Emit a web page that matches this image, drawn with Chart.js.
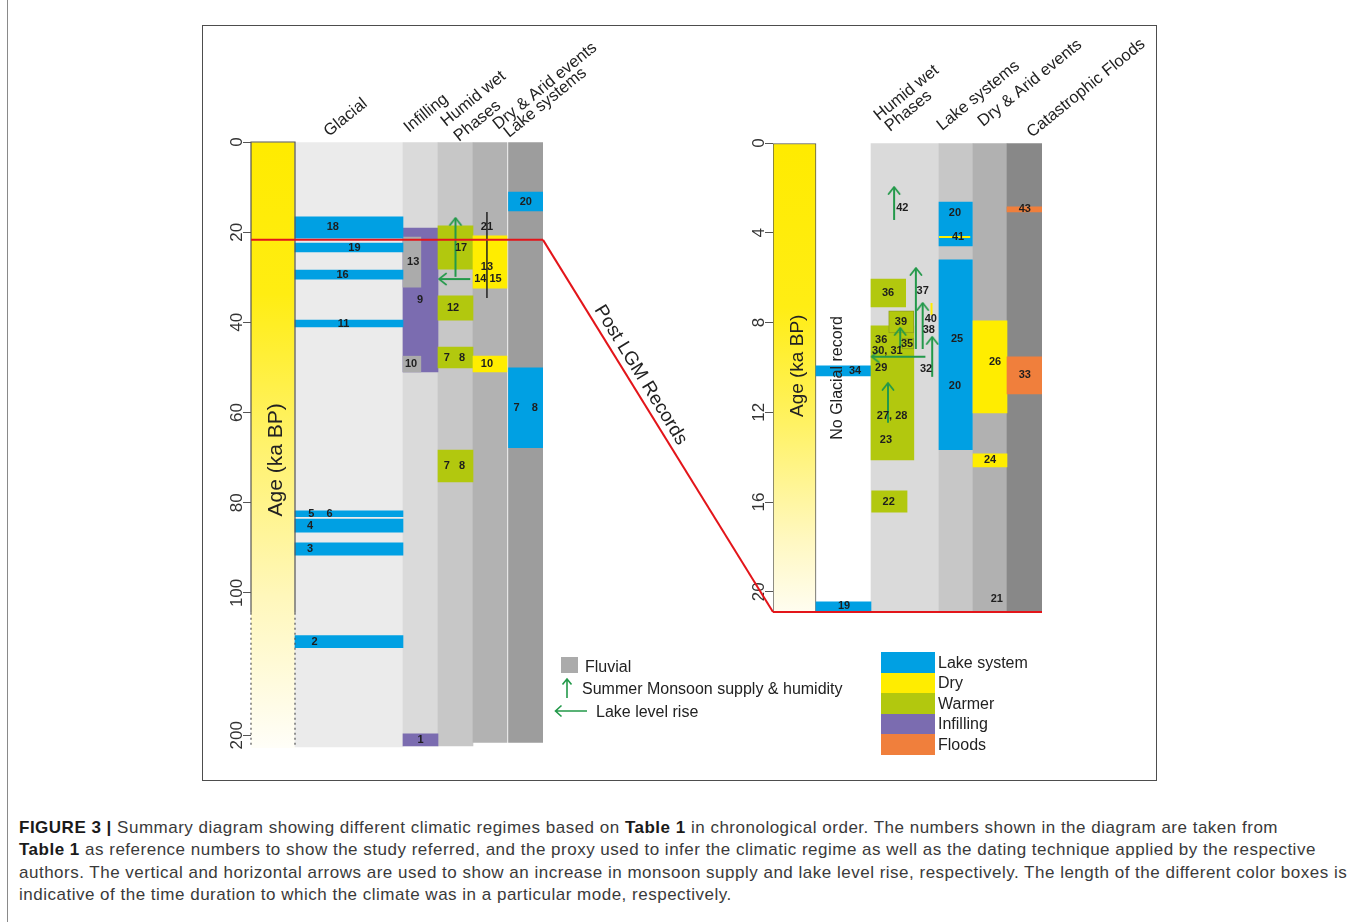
<!DOCTYPE html>
<html>
<head>
<meta charset="utf-8">
<title>Figure 3</title>
<script src="https://cdn.jsdelivr.net/npm/chart.js@4.4.1/dist/chart.umd.min.js"></script>
<style>
  html, body { margin:0; padding:0; background:#fff; }
  body { width:1357px; height:922px; position:relative; overflow:hidden; font-family:"Liberation Sans", Arial, Helvetica, sans-serif; color:#222; }
  #edge { position:absolute; left:7px; top:0; width:1px; height:922px; background:#8a8a8a; }
  #frame { position:absolute; left:202px; top:25px; width:955px; height:756px; border:1px solid #4d4d4d; box-sizing:border-box; }
  canvas { position:absolute; left:0; top:0; }
  .lg { position:absolute; font-size:16px; line-height:20px; color:#222; white-space:nowrap; }
  .sw { position:absolute; }
  #caption { position:absolute; left:19px; top:817px; font-size:17px; letter-spacing:0.5px; line-height:22.3px; color:#3a3a3a; white-space:nowrap; }
  #caption b { color:#1a1a1a; }
</style>
</head>
<body>
<div id="edge"></div>
<div id="frame"></div>
<canvas id="leftPanel" width="1357" height="790"></canvas>
<canvas id="rightPanel" width="1357" height="790"></canvas>
<div id="legend"></div>
<div id="caption"><b>FIGURE 3 |</b> Summary diagram showing different climatic regimes based on <b>Table 1</b> in chronological order. The numbers shown in the diagram are taken from<br><b>Table 1</b> as reference numbers to show the study referred, and the proxy used to infer the climatic regime as well as the dating technique applied by the respective<br>authors. The vertical and horizontal arrows are used to show an increase in monsoon supply and lake level rise, respectively. The length of the different color boxes is<br>indicative of the time duration to which the climate was in a particular mode, respectively.</div>
<script>
// ================= DATA (ages in ka BP) =================
const LEFT_TICKS  = [0, 20, 40, 60, 80, 100, 200];
const RIGHT_TICKS = [0, 4, 8, 12, 16, 20];
const LEFT_AGE_MAX  = 209;   // bottom of left panel
const RIGHT_AGE_MAX = 20.9;  // bottom of right panel
const LEFT_SOLID_TO = 114;   // age scale drawn solid down to here, dotted below
const LGM_LEFT  = 21.7;
const LGM_RIGHT = 20.9;

// left panel (all records) : [reference, from, to]
const leftGlacial   = [['18',16.6,21.3],['19',22.4,24.4],['16',28.4,30.4],['11',39.5,41.0],['5    6',81.8,83.1],['4',83.6,86.5],['3',88.9,91.6],['2',130,138.5]];
const leftInfilling = [['',19.1,51.0],['1',199,207.5]];
const leftFluvial   = [['13',21.1,32.2],['10',47.5,51.0]];
const leftWarmer    = [['17',18.6,28.2],['12',34.1,39.5],['7   8',45.5,50.1],['7   8',68.3,75.4]];
const leftDry       = [['',20.8,32.4],['10',47.5,51.0]];
const leftLake      = [['20',11.1,15.3],['7    8',50.1,67.8]];
const leftDryRange  = [[15.5,34.6]];
const leftMonsoon   = [[29.9,16.85]];   // arrow from, to
const leftLakeRise  = [30.4];
const leftNotes     = [['9',35.0],['21',18.8],['13',27.7],['14 15',30.4]];

// right panel (post LGM records)
const rightGlacialLake = [['34',9.93,10.38],['19',20.45,20.85]];
const rightWarmer   = [['36',6.06,7.31],['',8.15,14.12],['39',7.48,8.46],['35',8.69,9.18],['22',15.5,16.45]];
const rightLake     = [['20',2.63,4.59],['',5.21,13.67]];
const rightDry      = [['26',7.93,12.03],['24',13.85,14.43]];
const rightFloods   = [['43',2.85,3.07],['33',9.53,11.18]];
const rightDryLine  = [4.19];            // thin dry event inside lake record 20
const rightDryMark  = [[7.13,7.66]];     // record 40
const rightMonsoon  = [[3.43,1.96],[9.18,5.57],[9.18,7.13],[9.13,8.24],[10.42,8.64],[12.47,10.69]];
const rightLakeRise = [9.52];
const rightNotes    = [['36',8.77],['30, 31',9.27],['29',10.02],['27, 28',12.16],['23',13.23],['42',2.9],['37',6.59],['40',7.84],['38',8.33],['32',10.07],['25',8.73],['20',10.82],['41',4.19],['21',20.3]];

const LEGEND_LEFT  = ['Fluvial', 'Summer Monsoon supply & humidity', 'Lake level rise'];
const LEGEND_RIGHT = ['Lake system', 'Dry', 'Warmer', 'Infilling', 'Floods'];

// ================= STYLE / LAYOUT =================
const FONT = '"Liberation Sans", Arial, Helvetica, sans-serif';
const C = { lake:'#00a0e3', dry:'#ffed00', warm:'#b2c80e', infill:'#7b6cb0', flood:'#f07f3c',
            fluvial:'#ababab', arrow:'#23994a', red:'#e3151a', axis:'#555555', ink:'#1e1e1e' };
const LEGEND_RIGHT_COLORS = [C.lake, C.dry, C.warm, C.infill, C.flood];

const LEFT_COLS  = { age:[0,44], glacial:[44,152], infilling:[152,187], humid:[187,222], dry:[222,256], lake:[257.5,292] };
const RIGHT_COLS = { age:[0,43], noglacial:[43,98], humid:[98,166], lake:[166,200], dry:[200,234], flood:[234,269] };
const LEFT_BG  = [['glacial','#ebebeb',208.3],['infilling','#dadada',207.5],['humid','#c7c7c7',207.5],['dry','#b2b2b2',205],['lake','#9d9d9d',205]];
const RIGHT_BG = [['humid','#dadada'],['lake','#c7c7c7'],['dry','#b1b1b1'],['flood','#888888']];

const BREAK = 100, COMPRESS = 0.3155;           // left scale compressed beyond 100 ka
const uLeft  = a => a <= BREAK ? a : BREAK + (a - BREAK) * COMPRESS;
const uRight = a => a;

function makeChevron(color) {
  const c = document.createElement('canvas'); c.width = 20; c.height = 20;
  const g = c.getContext('2d');
  g.strokeStyle = color; g.lineWidth = 1.8; g.lineCap = 'round'; g.lineJoin = 'round';
  g.beginPath(); g.moveTo(4.5, 17); g.lineTo(10, 10); g.lineTo(15.5, 17); g.stroke();
  return c;
}
const CHEVRON = makeChevron(C.arrow);

function yellowGradient(stops) {
  return ctx => {
    const a = ctx.chart.chartArea;
    if (!a) return C.dry;
    const g = ctx.chart.ctx.createLinearGradient(0, a.top, 0, a.bottom);
    stops.forEach(s => g.addColorStop(s[0], s[1]));
    return g;
  };
}

function buildPanel(cols, yf) {
  const P = { sets: [], notes: [], texts: [] };
  P.cx = (col, f) => cols[col][0] + f * (cols[col][1] - cols[col][0]);
  P.add = ds => { ds.order = 1000 - P.sets.length; P.sets.push(ds); };
  P.bar = (x0, x1, a, b, color, extra) => P.add(Object.assign({
    type: 'bar', grouped: false, data: [{ x: (x0 + x1) / 2, y: [yf(a), yf(b)] }],
    backgroundColor: color, borderWidth: 0, borderSkipped: false,
    barThickness: ctx => { const s = ctx.chart.scales.x; return Math.abs(s.getPixelForValue(x1) - s.getPixelForValue(x0)); }
  }, extra || {}));
  P.line = (pts, color, width, extra) => P.add(Object.assign({
    type: 'line', data: pts.map(p => ({ x: p[0], y: yf(p[1]) })),
    borderColor: color, borderWidth: width, pointRadius: 0, pointHoverRadius: 0,
    fill: false, tension: 0, clip: false
  }, extra || {}));
  P.arrow = (x0, a0, x1, a1, rot) => P.line([[x0, a0], [x1, a1]], C.arrow, 2,
    { pointRadius: [0, 4], pointStyle: ['circle', CHEVRON], pointRotation: [0, rot] });
  P.series = s => s.data.forEach((d, i) => {
    const span = s.spans ? s.spans[i] : (s.span || [0, 1]);
    const x0 = P.cx(s.col, span[0]), x1 = P.cx(s.col, span[1]);
    const extra = (s.outline && s.outline[i]) ? { borderWidth: 1, borderColor: '#8fa01a' } : {};
    P.bar(x0, x1, d[1], d[2], s.color, extra);
    if (d[0]) {
      const f = s.lbl ? s.lbl[i] : 0.5;
      const at = (s.at && s.at[i] != null) ? s.at[i] : (d[1] + d[2]) / 2;
      P.notes.push({ text: d[0], x: P.cx(s.col, f), y: yf(at) });
    }
  });
  P.note = (text, col, f, age) => P.notes.push({ text, x: P.cx(col, f), y: yf(age) });
  return P;
}

const decor = {
  id: 'decor',
  afterDatasetsDraw(chart, args, o) {
    const { ctx, chartArea, scales } = chart;
    const xs = scales.x, ys = scales.y;
    ctx.save();
    ctx.font = 'bold 11px ' + FONT; ctx.fillStyle = C.ink; ctx.textAlign = 'center'; ctx.textBaseline = 'middle';
    (o.notes || []).forEach(n => ctx.fillText(n.text, xs.getPixelForValue(n.x), ys.getPixelForValue(n.y)));
    (o.texts || []).forEach(t => {
      const px = xs.getPixelForValue(t.x);
      const py = t.dy != null ? chartArea.top + t.dy : ys.getPixelForValue(t.y);
      ctx.save();
      ctx.translate(px, py); ctx.rotate(t.rot * Math.PI / 180);
      ctx.font = t.font; ctx.fillStyle = '#222';
      ctx.textAlign = t.align || 'left'; ctx.textBaseline = t.base || 'alphabetic';
      ctx.fillText(t.text, 0, 0);
      ctx.restore();
    });
    if (o.after) o.after(chart);
    ctx.restore();
  }
};

function axisY(min, max, ticks, tf, pad) {
  return {
    type: 'linear', position: 'left', min, max, reverse: true,
    afterBuildTicks: s => { s.ticks = ticks.map(v => ({ value: tf(v) })); },
    afterFit: s => { s.width = 22; },
    ticks: { autoSkip: false, minRotation: 90, maxRotation: 90, crossAlign: 'center', padding: pad,
             color: '#333', font: { family: FONT, size: 17 }, callback: (v, i) => String(ticks[i]) },
    grid: { drawOnChartArea: false, drawTicks: true, tickLength: 8, color: C.axis, lineWidth: 1 },
    border: { display: false }
  };
}

function makeChart(id, P, xmax, yAxis, padding, after) {
  return new Chart(document.getElementById(id), {
    type: 'bar',
    data: { datasets: P.sets },
    options: {
      responsive: false, maintainAspectRatio: false, animation: false, devicePixelRatio: 1, events: [],
      layout: { padding, autoPadding: false },
      scales: { x: { type: 'linear', display: false, min: 0, max: xmax, offset: false }, y: yAxis },
      plugins: { legend: { display: false }, tooltip: { enabled: false },
                 decor: { notes: P.notes, texts: P.texts, after } }
    },
    plugins: [decor]
  });
}

// ================= LEFT PANEL =================
const L = buildPanel(LEFT_COLS, uLeft);
L.bar(LEFT_COLS.age[0], LEFT_COLS.age[1], 0, LEFT_AGE_MAX,
  yellowGradient([[0,'#ffeb00'],[0.25,'#ffed12'],[0.5,'#fff26c'],[0.75,'#fff7bb'],[1,'#fffef8']]));
LEFT_BG.forEach(([col, color, bottom]) => L.bar(LEFT_COLS[col][0], LEFT_COLS[col][1], 0, bottom, color));
L.series({ data: leftInfilling, col: 'infilling', color: C.infill });
L.series({ data: leftFluvial, col: 'infilling', color: C.fluvial, span: [0, 0.51], lbl: [0.29, 0.23] });
L.series({ data: leftGlacial, col: 'glacial', color: C.lake, lbl: [0.35, 0.55, 0.44, 0.45, 0.235, 0.14, 0.14, 0.18] });
L.series({ data: leftWarmer, col: 'humid', color: C.warm, lbl: [0.66, 0.43, 0.47, 0.47] });
L.series({ data: leftDry, col: 'dry', color: C.dry, lbl: [0.5, 0.41] });
L.series({ data: leftLake, col: 'lake', color: C.lake });
leftDryRange.forEach(r => L.line([[L.cx('dry', 0.41), r[0]], [L.cx('dry', 0.41), r[1]]], '#222', 1.5));
leftMonsoon.forEach(r => L.arrow(L.cx('humid', 0.5), r[0], L.cx('humid', 0.5), r[1], 0));
leftLakeRise.forEach(a => L.arrow(L.cx('humid', 0.92), a, L.cx('humid', 0.03), a, -90));
const LEFT_NOTE_POS = [['infilling', 0.49], ['dry', 0.41], ['dry', 0.41], ['dry', 0.44]];
leftNotes.forEach((n, i) => L.note(n[0], LEFT_NOTE_POS[i][0], LEFT_NOTE_POS[i][1], n[1]));
// age column outline: solid, then dotted across the compressed part
const ax0 = LEFT_COLS.age[0], ax1 = LEFT_COLS.age[1];
L.line([[ax0, LEFT_SOLID_TO], [ax0, 0], [ax1, 0], [ax1, LEFT_SOLID_TO]], C.axis, 1.2);
L.line([[ax0, LEFT_SOLID_TO], [ax0, LEFT_AGE_MAX - 1]], C.axis, 1.2, { borderDash: [2, 3] });
L.line([[ax1, LEFT_SOLID_TO], [ax1, LEFT_AGE_MAX - 1]], C.axis, 1.2, { borderDash: [2, 3] });
L.line([[LEFT_COLS.age[0], LGM_LEFT], [LEFT_COLS.lake[1], LGM_LEFT]], C.red, 2);
const H16 = '16.5px ' + FONT;
L.texts.push(
  { text: 'Glacial', x: 78, dy: -5, rot: -39, font: H16 },
  { text: 'Infilling', x: 158, dy: -9, rot: -39, font: H16 },
  { text: 'Humid wet', x: 195, dy: -15, rot: -39, font: H16 },
  { text: 'Phases', x: 208, dy: 0, rot: -39, font: H16 },
  { text: 'Dry & Arid events', x: 247, dy: -12, rot: -39, font: H16 },
  { text: 'Lake systems', x: 258, dy: -4, rot: -39, font: H16 },
  { text: 'Age (ka BP)', x: L.cx('age', 0.57), y: uLeft(70.5), rot: -90, font: '21px ' + FONT, align: 'center', base: 'middle' }
);
makeChart('leftPanel', L, LEFT_COLS.lake[1], axisY(0, uLeft(LEFT_AGE_MAX), LEFT_TICKS, uLeft, -8),
  { left: 229, right: 1357 - 543, top: 142, bottom: 790 - 748 });

// ================= RIGHT PANEL =================
const R = buildPanel(RIGHT_COLS, uRight);
R.bar(RIGHT_COLS.age[0], RIGHT_COLS.age[1], 0, RIGHT_AGE_MAX,
  yellowGradient([[0,'#ffeb00'],[0.35,'#ffed14'],[0.6,'#fff264'],[0.85,'#fff8c2'],[1,'#fffdf0']]),
  { borderWidth: 1, borderColor: C.axis });
RIGHT_BG.forEach(([col, color]) => R.bar(RIGHT_COLS[col][0], RIGHT_COLS[col][1], 0, RIGHT_AGE_MAX, color));
R.series({ data: rightGlacialLake, col: 'noglacial', color: C.lake, lbl: [0.71, 0.51] });
R.series({ data: rightWarmer, col: 'humid', color: C.warm,
  spans: [[0, .51], [0, .63], [.26, .63], [.46, .63], [.01, .53]], lbl: [.25, .5, .44, .53, .26],
  outline: [false, false, true, true, false] });
R.series({ data: rightLake, col: 'lake', color: C.lake, span: [0, 0.98], lbl: [0.47, 0.5], at: [3.12, null] });
R.series({ data: rightDry, col: 'dry', color: C.dry, lbl: [0.65, 0.5], at: [9.75, null] });
R.series({ data: rightFloods, col: 'flood', color: C.flood, lbl: [0.51, 0.51] });
rightDryLine.forEach(a => R.line([[R.cx('lake', 0), a], [R.cx('lake', 0.92), a]], C.dry, 2));
rightDryMark.forEach(r => R.line([[R.cx('humid', 0.89), r[0]], [R.cx('humid', 0.89), r[1]]], C.dry, 2));
const RIGHT_ARROW_X = [0.34, 0.66, 0.76, 0.43, 0.90, 0.25];
rightMonsoon.forEach((r, i) => R.arrow(R.cx('humid', RIGHT_ARROW_X[i]), r[0], R.cx('humid', RIGHT_ARROW_X[i]), r[1], 0));
rightLakeRise.forEach(a => R.arrow(R.cx('humid', 0.80), a, R.cx('humid', 0.01), a, -90));
const RIGHT_NOTE_POS = [['humid',.15],['humid',.24],['humid',.15],['humid',.31],['humid',.22],['humid',.46],['humid',.76],
  ['humid',.88],['humid',.85],['humid',.81],['lake',.53],['lake',.47],['lake',.56],['dry',.7]];
rightNotes.forEach((n, i) => R.note(n[0], RIGHT_NOTE_POS[i][0], RIGHT_NOTE_POS[i][1], n[1]));
R.line([[RIGHT_COLS.age[0], LGM_RIGHT], [RIGHT_COLS.flood[1], LGM_RIGHT]], C.red, 2);
R.texts.push(
  { text: 'Humid wet', x: 106, dy: -22, rot: -39, font: H16 },
  { text: 'Phases', x: 117, dy: -11, rot: -39, font: H16 },
  { text: 'Lake systems', x: 169, dy: -12, rot: -39, font: H16 },
  { text: 'Dry & Arid events', x: 210, dy: -16, rot: -39, font: H16 },
  { text: 'Catastrophic Floods', x: 259, dy: -5, rot: -39, font: H16 },
  { text: 'Age (ka BP)', x: R.cx('age', 0.58), y: 9.93, rot: -90, font: '19px ' + FONT, align: 'center', base: 'middle' },
  { text: 'No Glacial record', x: R.cx('noglacial', 0.4), y: 10.47, rot: -90, font: '16px ' + FONT, align: 'center', base: 'middle' }
);
function drawConnector(chart) {
  const left = Chart.getChart('leftPanel');
  if (!left) return;
  const ctx = chart.ctx;
  const p0 = [left.scales.x.getPixelForValue(LEFT_COLS.lake[1]), left.scales.y.getPixelForValue(uLeft(LGM_LEFT))];
  const p1 = [chart.scales.x.getPixelForValue(RIGHT_COLS.age[0]), chart.scales.y.getPixelForValue(LGM_RIGHT)];
  ctx.save();
  ctx.strokeStyle = C.red; ctx.lineWidth = 2;
  ctx.beginPath(); ctx.moveTo(p0[0], p0[1]); ctx.lineTo(p1[0], p1[1]); ctx.stroke();
  const dx = p1[0] - p0[0], dy = p1[1] - p0[1], len = Math.hypot(dx, dy);
  const ang = Math.atan2(dy, dx), t = 0.38, off = 12;
  const cx = p0[0] + dx * t + (dy / len) * off, cy = p0[1] + dy * t - (dx / len) * off;
  ctx.translate(cx, cy); ctx.rotate(ang);
  ctx.font = '19px ' + FONT; ctx.fillStyle = '#222'; ctx.textAlign = 'center'; ctx.textBaseline = 'middle';
  ctx.fillText('Post LGM Records', 0, 0);
  ctx.restore();
}
makeChart('rightPanel', R, RIGHT_COLS.flood[1], axisY(0, RIGHT_AGE_MAX, RIGHT_TICKS, uRight, -3.5),
  { left: 751, right: 1357 - 1042, top: 143, bottom: 790 - 612 }, drawConnector);

// ================= LEGEND (html) =================
(function () {
  const lg = document.getElementById('legend');
  const el = (html) => { lg.insertAdjacentHTML('beforeend', html); };
  el('<div class="sw" style="left:561px;top:657px;width:17px;height:16px;background:' + C.fluvial + '"></div>');
  el('<div class="lg" style="left:585px;top:657px">' + LEGEND_LEFT[0] + '</div>');
  el('<svg class="sw" style="left:561px;top:677px" width="12" height="22"><path d="M6 21 V2 M1.5 7.5 L6 2 L10.5 7.5" stroke="' + C.arrow + '" stroke-width="1.6" fill="none"/></svg>');
  el('<div class="lg" style="left:582px;top:679px">' + LEGEND_LEFT[1].replace('&', '&amp;') + '</div>');
  el('<svg class="sw" style="left:554px;top:704px" width="34" height="14"><path d="M33 7 H1.5 M7.5 1.5 L1.5 7 L7.5 12.5" stroke="' + C.arrow + '" stroke-width="1.6" fill="none"/></svg>');
  el('<div class="lg" style="left:596px;top:702px">' + LEGEND_LEFT[2] + '</div>');
  const tops = [652, 673, 693, 714, 734, 755];
  LEGEND_RIGHT.forEach((name, i) => {
    el('<div class="sw" style="left:881px;top:' + tops[i] + 'px;width:54px;height:' + (tops[i + 1] - tops[i]) + 'px;background:' + LEGEND_RIGHT_COLORS[i] + '"></div>');
    el('<div class="lg" style="left:938px;top:' + ((tops[i] + tops[i + 1]) / 2 - 10) + 'px">' + name + '</div>');
  });
})();
</script>
</body>
</html>
